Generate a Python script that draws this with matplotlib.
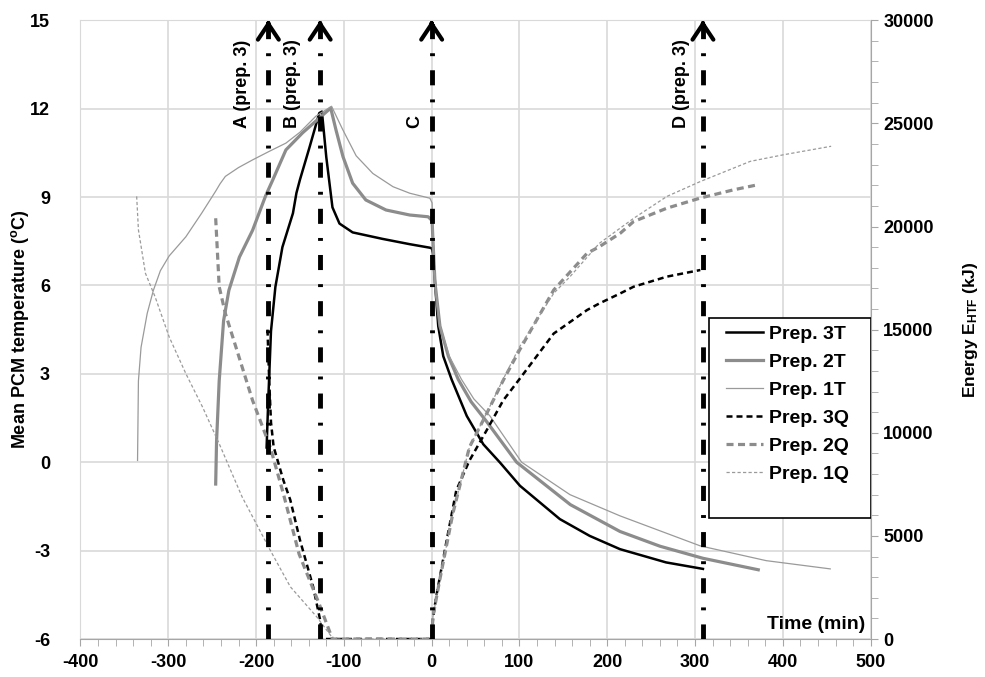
import matplotlib
matplotlib.use("Agg")
import matplotlib.pyplot as plt
from matplotlib.patches import Rectangle
from matplotlib.ticker import MultipleLocator

# ---- data (time in min) ----
t_3T = [-188, -186, -183, -178, -170, -158, -154, -150, -139, -128, -125, -120, -113, -105,
        -90, -56, -25, -2, 0.5, 1.5, 3.8, 7.5, 13.2, 22.7, 40, 58.8, 77.8, 100.6, 146, 180,
        214.5, 267, 309]
T_3T = [0.5, 2.2, 4.45, 5.95, 7.3, 8.45, 9.14, 9.59, 10.7, 11.85, 11.9, 10.35, 8.65, 8.1,
        7.8, 7.58, 7.4, 7.28, 7.25, 7.1, 6.09, 4.62, 3.6, 2.81, 1.57, 0.61, -0.01, -0.8, -1.93,
        -2.5, -2.95, -3.4, -3.62]

t_2T = [-246, -245, -242, -237, -231, -219, -204, -189, -181, -166, -147, -128, -115, -109,
        -101, -90, -75, -52, -25, -4, 0.5, 1.5, 3.8, 9.4, 19, 30.3, 45, 62.6, 96.8, 158,
        214.5, 260, 309, 372]
T_2T = [-0.74, 0.71, 2.76, 4.8, 5.83, 6.96, 7.87, 9.05, 9.58, 10.6, 11.18, 11.68, 12.02, 11.28,
        10.37, 9.47, 8.9, 8.56, 8.39, 8.33, 8.2, 7.5, 6.09, 4.62, 3.6, 2.81, 2.05, 1.38, 0.0,
        -1.44, -2.35, -2.85, -3.26, -3.65]

t_1T = [-335, -334, -331, -324, -317, -309, -299, -280, -262, -246, -241, -235, -220, -204,
        -185, -166, -150, -132, -114, -101.5, -86, -67, -44, -25, -2, 0.5, 1.5, 3.8, 9.4, 20,
        34, 48, 66.4, 102.5, 157.5, 214.5, 306, 381, 454]
T_1T = [0.06, 2.76, 3.9, 5.05, 5.83, 6.5, 7.0, 7.65, 8.45, 9.2, 9.45, 9.7, 10.0, 10.26,
        10.55, 10.83, 11.2, 11.74, 12.08, 11.3, 10.4, 9.8, 9.35, 9.13, 8.96, 8.8, 7.8, 6.1,
        4.65, 3.6, 2.81, 2.15, 1.57, 0.0, -1.1, -1.82, -2.84, -3.34, -3.62]

t_3Q = [-187, -185, -183, -180, -169, -161, -150, -135, -127, -125, 0, 1.5, 5, 17, 28, 43,
        62.5, 81.5, 100, 139, 177, 191, 215, 230, 268, 306]
Q_3Q = [15000, 12500, 10500, 9320, 7710, 6740, 4800, 2535, 920, 0, 0, 1000, 2010, 4760, 7200,
        8650, 10110, 11570, 12600, 14810, 15950, 16270, 16760, 17080, 17570, 17890]

t_2Q = [-246, -242, -235, -223, -204, -184, -169, -151, -128, -113, 0, 1.5, 9, 24, 43, 62.5,
        81.5, 100, 139, 177, 191, 215, 230, 268, 306, 344, 371]
Q_2Q = [20400, 17080, 15790, 14160, 11570, 9320, 7060, 4120, 1690, 0, 0, 1100, 2820, 6060,
        9300, 10920, 12540, 14000, 16920, 18700, 19020, 19680, 20240, 20890, 21380, 21780, 22020]

t_1Q = [-336, -334, -326, -315, -299, -280, -261, -242, -216, -184, -161, -131, -112, 0, 1.5,
        9, 24, 43, 62.5, 81.5, 100, 139, 157.5, 191, 230, 268, 306, 363, 401, 455]
Q_1Q = [21460, 19840, 17730, 16590, 14650, 12870, 11250, 9470, 6900, 4315, 2535, 1080, 0, 0,
        1100, 2820, 6060, 9300, 10950, 12600, 14160, 16760, 17565, 19184, 20395, 21460, 22180,
        23160, 23480, 23890]

events = [-186, -127, 0, 309]
event_labels = ["A (prep. 3)", "B (prep. 3)", "C", "D (prep. 3)"]
event_label_x = [-216, -158, -19, 284]

plt.rcParams["font.family"] = ["Liberation Sans", "DejaVu Sans"]
plt.rcParams["font.weight"] = "bold"
plt.rcParams["font.size"] = 13
plt.rcParams["axes.unicode_minus"] = False
plt.rcParams["mathtext.default"] = "regular"

GRID = "#d9d9d9"
AXC = "#a6a6a6"
G_THICK = "#8c8c8c"
G_THIN = "#9a9a9a"

fig = plt.figure(figsize=(9.85, 6.77), dpi=100)
ax = fig.add_axes([0.0817, 0.0561, 0.8022, 0.914])
ax2 = ax.twinx()

# temperature curves
l3T, = ax.plot(t_3T, T_3T, color="k", lw=1.8, label="Prep. 3T")
l2T, = ax.plot(t_2T, T_2T, color=G_THICK, lw=2.3, label="Prep. 2T")
l1T, = ax.plot(t_1T, T_1T, color=G_THIN, lw=0.9, label="Prep. 1T")

# energy curves
l3Q, = ax2.plot(t_3Q, Q_3Q, color="k", lw=1.8, ls=(0, (2.4, 1.6)), label="Prep. 3Q")
l2Q, = ax2.plot(t_2Q, Q_2Q, color=G_THICK, lw=2.3, ls=(0, (2.2, 1.4)), label="Prep. 2Q")
l1Q, = ax2.plot(t_1Q, Q_1Q, color=G_THIN, lw=0.9, ls=(0, (2.6, 1.8)), label="Prep. 1Q")

ax.set_xlim(-400, 500)
ax.set_ylim(-6, 15)
ax2.set_ylim(0, 30000)

ax.xaxis.set_major_locator(MultipleLocator(100))
ax.xaxis.set_minor_locator(MultipleLocator(20))
ax.yaxis.set_major_locator(MultipleLocator(3))
ax2.yaxis.set_major_locator(MultipleLocator(5000))
ax2.yaxis.set_minor_locator(MultipleLocator(1000))

ax.grid(True, which="major", color=GRID, lw=1.2)
ax.set_axisbelow(True)

for s in ("left", "top"):
    ax.spines[s].set_color(GRID)
for s in ("left", "top", "bottom"):
    ax2.spines[s].set_visible(False)
ax.spines["right"].set_visible(False)
ax.spines["bottom"].set_color(AXC)
ax2.spines["right"].set_color(AXC)

ax.tick_params(axis="x", which="both", direction="out", length=5, color=AXC, pad=6)
ax.tick_params(axis="y", which="both", length=0, pad=22)
ax2.tick_params(axis="y", which="both", direction="out", length=5, color=AXC, pad=4)

ax.set_ylabel("Mean PCM temperature ($^{o}$C)", fontweight="bold", fontsize=13)
ax.yaxis.set_label_coords(-0.062, 0.5)
ax2.set_ylabel("Energy E$_{HTF}$ (kJ)", fontweight="bold", fontsize=12.5)
ax2.yaxis.set_label_coords(1.1145, 0.5)
ax.text(0.993, 0.01, "Time (min)", transform=ax.transAxes, ha="right", va="bottom",
        fontsize=14, fontweight="bold")

# event markers: dash-dot verticals with arrow heads
for x, lab, lx in zip(events, event_labels, event_label_x):
    ax2.axvline(x, color="k", lw=3.5, ls=(0, (3.1, 2.9, 0.6, 2.9)),
                dash_capstyle="butt", zorder=5)
    ax2.annotate("", xy=(x, 30000), xytext=(x, 29800),
                 arrowprops=dict(arrowstyle="->,head_length=0.45,head_width=0.3",
                                 lw=3, color="k", mutation_scale=25,
                                 shrinkA=0, shrinkB=0), zorder=6)
    ax.text(lx, 11.35, lab, rotation=90, ha="center", va="bottom",
            fontsize=13, fontweight="bold")

# legend: frame drawn separately so its size matches the reference box
ax2.add_patch(Rectangle((0.7954, 0.1955), 0.2046, 0.3232, transform=ax2.transAxes,
                        facecolor="white", edgecolor="k", lw=1.2, zorder=9))
handles = [l3T, l2T, l1T, l3Q, l2Q, l1Q]
leg = ax2.legend(handles, [h.get_label() for h in handles],
                 loc="upper left", bbox_to_anchor=(0.8169, 0.5066), frameon=False,
                 borderaxespad=0, borderpad=0, labelspacing=0.53, handlelength=1.9,
                 handletextpad=0.31, fontsize=14)
leg.set_zorder(10)

fig.savefig("out.png", dpi=100)
